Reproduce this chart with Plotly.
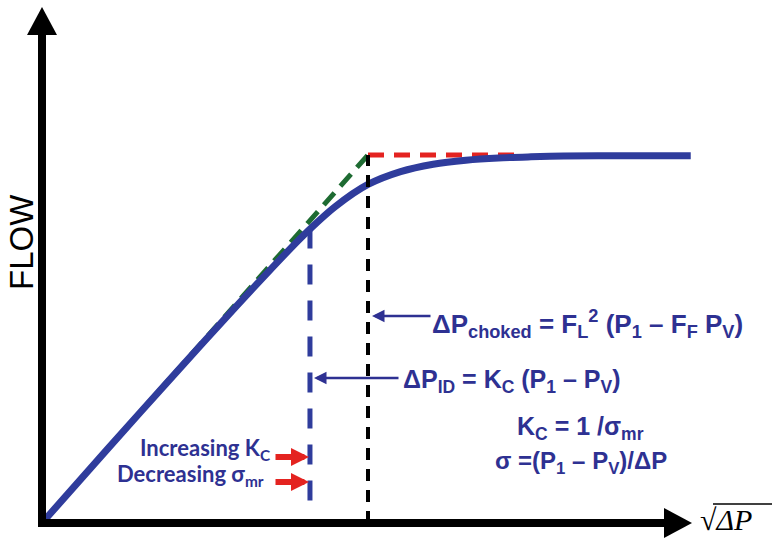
import plotly.graph_objects as go

W, H = 772, 542
OFF = 0  # page body margin removed by post_script

# ---- data (units: sqrt(dP) on x, flow on y; choked point = 1,1) ----
flow_x = [0, 0.2, 0.4, 0.6, 0.7, 0.8, 0.9, 1.0, 1.1, 1.2, 1.3, 1.4, 1.5, 1.6, 1.8, 1.99]
flow_y = [0, 0.2, 0.398, 0.593, 0.688, 0.78, 0.86, 0.92, 0.955, 0.975, 0.986, 0.992, 0.995, 0.997, 0.998, 0.998]
choked_x = 1.0
choked_flow = 1.0
red_end_x = 1.45
id_x = 0.822
id_flow = 0.80
id_bottom = 0.058

# ---- pixel mapping (reference pixels -> figure) ----
X0PX, Y0PX = 42 - OFF, 523 - OFF
XU, YU = 326, 368
xr = [-X0PX / XU, (W - X0PX) / XU]
yr = [-(H - Y0PX) / YU, Y0PX / YU]

def P(px, py):
    return (px - OFF) / W, 1 - (py - OFF) / H

NAVY = "#2E3192"
BLUE = "#2F3C9C"
RED = "#E42320"
GREEN = "#1E6B32"

fig = go.Figure()
fig.add_trace(go.Scatter(x=[0, choked_x], y=[0, choked_flow], mode="lines",
                         line=dict(color=GREEN, width=5, dash="16px,9px"), hoverinfo="skip"))
fig.add_trace(go.Scatter(x=[choked_x, red_end_x], y=[choked_flow, choked_flow], mode="lines",
                         line=dict(color=RED, width=5, dash="16px,10px"), hoverinfo="skip"))
fig.add_trace(go.Scatter(x=flow_x, y=flow_y, mode="lines",
                         line=dict(color=BLUE, width=7, shape="spline", smoothing=0.8), hoverinfo="skip"))
fig.add_trace(go.Scatter(x=[choked_x, choked_x], y=[0, choked_flow], mode="lines",
                         line=dict(color="black", width=4, dash="12px,9px"), hoverinfo="skip"))
fig.add_trace(go.Scatter(x=[id_x, id_x], y=[id_flow, id_bottom], mode="lines",
                         line=dict(color=BLUE, width=5, dash="20px,16px"), hoverinfo="skip"))

# ---- axes with arrowheads ----
shapes = []
shapes.append(dict(type="line", xref="x", yref="y", x0=0, x1=0, y0=-4 / YU, y1=(523 - 33) / YU,
                   line=dict(color="black", width=8)))
shapes.append(dict(type="line", xref="x", yref="y", x0=-4 / XU, x1=(666 - 42) / XU, y0=0, y1=0,
                   line=dict(color="black", width=8)))
ytip = (523 - 7) / YU
ybase = (523 - 35) / YU
hw = 15 / XU
shapes.append(dict(type="path", xref="x", yref="y",
                   path=f"M {-hw},{ybase} L 0,{ytip} L {hw},{ybase} Z",
                   fillcolor="black", line=dict(width=0)))
xtip = (692 - 42) / XU
xbase = (664 - 42) / XU
hh = 15 / YU
shapes.append(dict(type="path", xref="x", yref="y",
                   path=f"M {xbase},{-hh} L {xtip},0 L {xbase},{hh} Z",
                   fillcolor="black", line=dict(width=0)))
# overline of the square root
a, b = P(713, 504)
c, _ = P(772, 504)
shapes.append(dict(type="line", xref="paper", yref="paper", x0=a, x1=c, y0=b, y1=b,
                   line=dict(color="black", width=1.5)))

ann = []
def text(px, py, s, size, font="Liberation Sans", color=NAVY, xanchor="left", angle=0):
    x, y = P(px, py)
    ann.append(dict(x=x, y=y, xref="paper", yref="paper", text=s, showarrow=False,
                    xanchor=xanchor, yanchor="middle", textangle=angle,
                    font=dict(family=font, size=size, color=color)))

def arrow(tip, tail, color, width, size, head=2):
    x, y = P(*tip)
    ann.append(dict(x=x, y=y, xref="paper", yref="paper", text="", showarrow=True,
                    ax=tail[0] - tip[0], ay=tail[1] - tip[1], axref="pixel", ayref="pixel",
                    arrowhead=head, arrowsize=size, arrowwidth=width, arrowcolor=color))

text(22, 242, "FLOW", 33, color="black", xanchor="center", angle=-90)
text(698, 519, "√<i>ΔP</i>", 30, font="Liberation Serif", color="black")

text(430, 324, "<b>ΔP<sub>choked</sub> = F<sub>L</sub><sup>2</sup> (P<sub>1</sub> – F<sub>F</sub> P<sub>V</sub>)</b>", 26)
text(401, 381, "<b>ΔP<sub>ID</sub> = K<sub>C</sub> (P<sub>1</sub> – P<sub>V</sub>)</b>", 25)
text(515, 428, "<b>K<sub>C</sub> = 1 /σ<sub>mr</sub></b>", 25)
text(493, 462, "<b>σ =(P<sub>1</sub> – P<sub>V</sub>)/ΔP</b>", 24)
text(138, 449, "<b>Increasing K<sub>C</sub></b>", 22, font="Lato")
text(115, 475, "<b>Decreasing σ<sub>mr</sub></b>", 22, font="Lato")

arrow((372, 316), (432, 316), NAVY, 2.5, 1.0)
arrow((314, 378), (400, 378), NAVY, 2.5, 1.0)
arrow((309, 457), (274, 457), RED, 6, 0.6)
arrow((309, 482), (274, 482), RED, 6, 0.6)

fig.update_layout(
    width=W, height=H, margin=dict(l=0, r=0, t=0, b=0),
    paper_bgcolor="white", plot_bgcolor="white", showlegend=False,
    xaxis=dict(range=xr, visible=False, fixedrange=True),
    yaxis=dict(range=yr, visible=False, fixedrange=True),
    shapes=shapes, annotations=ann,
)
fig.write_html("out.html", config={"displayModeBar": False},
               post_script="document.body.style.margin='0';document.body.style.overflow='hidden';")
